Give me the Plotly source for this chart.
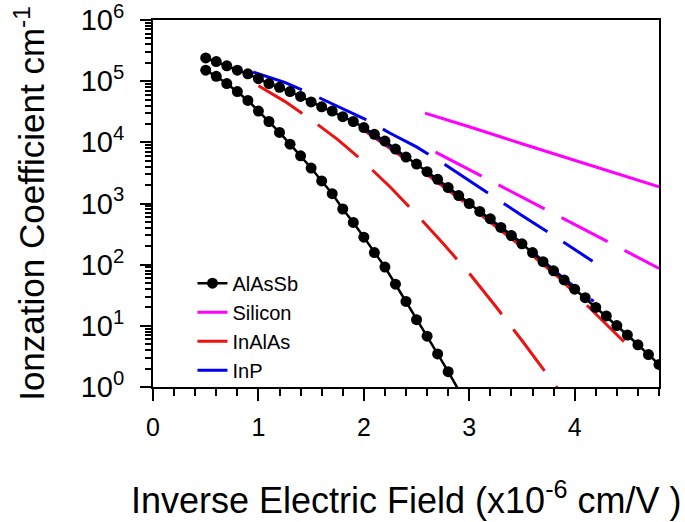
import plotly.graph_objects as go

# ---------------- data ----------------
alassb_x = [0.5, 0.6, 0.7, 0.8, 0.9, 1.0, 1.1, 1.2, 1.3, 1.4, 1.5, 1.6, 1.7, 1.8, 1.9,
            2.0, 2.1, 2.2, 2.3, 2.4, 2.5, 2.6, 2.7, 2.8, 2.9, 3.0, 3.1, 3.2, 3.3, 3.4,
            3.5, 3.6, 3.7, 3.8, 3.9, 4.0, 4.1, 4.2, 4.3, 4.4, 4.5, 4.6, 4.7, 4.8]
alassb_upper = [2.40e5, 2.09e5, 1.78e5, 1.51e5, 1.32e5, 1.10e5, 9.12e4, 7.94e4, 6.76e4, 5.62e4,
                4.57e4, 3.80e4, 3.24e4, 2.63e4, 2.19e4, 1.74e4, 1.35e4, 1.05e4, 7.76e3, 5.75e3,
                4.42e3, 3.31e3, 2.48e3, 1.82e3, 1.35e3, 1.00e3, 741, 562, 407, 299,
                219, 158, 112, 79.4, 56.2, 39.8, 28.8, 20.0, 14.5, 10.1,
                7.08, 4.90, 3.39, 2.34]

alassb_lower_x = [0.5, 0.6, 0.7, 0.8, 0.9, 1.0, 1.1, 1.2, 1.3, 1.4, 1.5, 1.6, 1.7, 1.8, 1.9,
                  2.0, 2.1, 2.2, 2.3, 2.4, 2.5, 2.6, 2.7, 2.8, 2.9]
alassb_lower = [1.51e5, 1.20e5, 9.12e4, 6.76e4, 4.84e4, 3.24e4, 2.19e4, 1.45e4, 9.33e3, 6.03e3,
                3.80e3, 2.34e3, 1.45e3, 813, 490, 282, 158, 91.2, 47.9, 25.1,
                12.6, 6.76, 3.47, 1.78, 0.89]

silicon_a_x = [2.58, 3.0, 3.5, 4.0, 4.5, 4.8]
silicon_a = [3.0e4, 1.8e4, 9.5e3, 5.1e3, 2.75e3, 1.88e3]
silicon_b_x = [2.68, 3.0, 3.5, 4.0, 4.5, 4.8]
silicon_b = [6.9e3, 3.55e3, 1.26e3, 452, 162, 87]

inalas_a_x = [2.0, 2.5, 3.0, 3.5, 3.85, 4.2, 4.55]
inalas_a = [1.58e4, 3.98e3, 912, 195, 61.7, 15.8, 3.98]
inalas_b_x = [1.0, 1.25, 1.5, 1.75, 2.0, 2.25, 2.5, 2.75, 3.0, 3.25, 3.5, 3.75, 3.9]
inalas_b = [8.41e4, 4.68e4, 2.34e4, 1.12e4, 4.79e3, 1.86e3, 661, 224, 72.4, 20.9, 5.75, 1.53, 0.68]

inp_a_x = [0.95, 1.25, 1.5, 1.75, 2.0, 2.25, 2.5, 2.75, 3.0, 3.25, 3.5, 3.75, 4.0, 4.17]
inp_a = [1.41e5, 9.55e4, 6.17e4, 3.94e4, 2.45e4, 1.41e4, 8.41e3, 4.57e3, 2.37e3, 1.19e3,
         638, 339, 176, 114]
inp_b_x = [2.0, 2.5, 3.0, 3.5, 3.9, 4.18]
inp_b = [1.66e4, 4.37e3, 1.0e3, 224, 58.9, 25.1]

y_tick_exponents = [0, 1, 2, 3, 4, 5, 6]
x_tick_labels = ["0", "1", "2", "3", "4"]
x_title = "Inverse Electric Field (x10<sup>-6</sup> cm/V )"
y_title = "Ionzation Coefficient cm<sup>-1</sup>"

# ---------------- styling ----------------
FONT = "Arial, Liberation Sans, sans-serif"
DASH = "52px,19px"
MAGENTA, RED, BLUE, BLACK = "#FF00FF", "#EE1111", "#0000EE", "#000000"
Y_MIN = 1.0

fig = go.Figure()

fig.add_trace(go.Scatter(x=silicon_a_x, y=silicon_a, mode="lines", name="Silicon",
                         legendgroup="si", legendrank=2,
                         line=dict(color=MAGENTA, width=3)))
fig.add_trace(go.Scatter(x=silicon_b_x, y=silicon_b, mode="lines", name="Silicon",
                         legendgroup="si", showlegend=False,
                         line=dict(color=MAGENTA, width=3, dash=DASH)))
fig.add_trace(go.Scatter(x=inalas_a_x, y=inalas_a, mode="lines", name="InAlAs",
                         legendgroup="inalas", legendrank=3,
                         line=dict(color=RED, width=3, dash=DASH)))
fig.add_trace(go.Scatter(x=inalas_b_x, y=inalas_b, mode="lines", name="InAlAs",
                         legendgroup="inalas", showlegend=False,
                         line=dict(color=RED, width=3, dash=DASH)))
fig.add_trace(go.Scatter(x=inp_a_x, y=inp_a, mode="lines", name="InP",
                         legendgroup="inp", legendrank=4,
                         line=dict(color=BLUE, width=3, dash=DASH)))
fig.add_trace(go.Scatter(x=inp_b_x, y=inp_b, mode="lines", name="InP",
                         legendgroup="inp", showlegend=False,
                         line=dict(color=BLUE, width=3, dash=DASH)))

fig.add_trace(go.Scatter(x=alassb_x, y=alassb_upper, mode="lines+markers", name="AlAsSb",
                         legendgroup="alassb", legendrank=1,
                         line=dict(color=BLACK, width=2.5),
                         marker=dict(color=BLACK, size=11, symbol="circle", opacity=1)))
lower_sizes = [11 if v >= Y_MIN else 0 for v in alassb_lower]
fig.add_trace(go.Scatter(x=alassb_lower_x, y=alassb_lower, mode="lines+markers", name="AlAsSb",
                         legendgroup="alassb", showlegend=False,
                         line=dict(color=BLACK, width=2.5),
                         marker=dict(color=BLACK, size=lower_sizes, symbol="circle",
                                     opacity=1, line=dict(width=0))))

minor_y = [m * 10 ** e for e in range(0, 6) for m in range(2, 10)]

fig.update_layout(
    width=685, height=522,
    margin=dict(l=153, r=26, t=20, b=135, autoexpand=False),
    paper_bgcolor="white", plot_bgcolor="white",
    font=dict(family=FONT, color="black"),
    showlegend=True,
    legend=dict(x=0.078, y=0.336, xanchor="left", yanchor="top",
                bgcolor="rgba(0,0,0,0)", font=dict(size=20, family=FONT),
                itemwidth=30, tracegroupgap=0),
    xaxis=dict(
        range=[0, 4.8], showgrid=False, zeroline=False, automargin=False,
        showline=True, linecolor="black", linewidth=2, mirror=True,
        ticks="outside", ticklen=12, tickwidth=2, tickcolor="black",
        tickvals=[0, 1, 2, 3, 4], ticktext=x_tick_labels,
        tickfont=dict(size=25, family=FONT), ticklabelstandoff=5,
        ticklabeloverflow="allow",
        minor=dict(dtick=0.2, ticks="outside", ticklen=7, tickwidth=2, tickcolor="black",
                   showgrid=False),
    ),
    yaxis=dict(
        type="log", range=[0, 6], showgrid=False, zeroline=False, automargin=False,
        showline=True, linecolor="black", linewidth=2, mirror=True,
        ticks="outside", ticklen=11, tickwidth=2, tickcolor="black",
        tickvals=[10 ** e for e in y_tick_exponents],
        ticktext=["10<sup>%d</sup>" % e for e in y_tick_exponents],
        tickfont=dict(size=29, family=FONT), ticklabelstandoff=10,
        ticklabeloverflow="allow",
        minor=dict(tickvals=minor_y, ticks="outside", ticklen=6, tickwidth=2,
                   tickcolor="black", showgrid=False),
        title=dict(text=y_title, font=dict(size=35, family=FONT), standoff=25),
    ),
    annotations=[dict(text=x_title, xref="paper", yref="paper", x=0.5, y=-0.303,
                      xanchor="center", yanchor="middle", showarrow=False,
                      font=dict(size=36, family=FONT, color="black"))],
)

# remove the page's default body margin so the figure fills the window exactly
fig.write_html("out.html", config={"displayModeBar": False},
               post_script="document.body.style.margin='0';")
